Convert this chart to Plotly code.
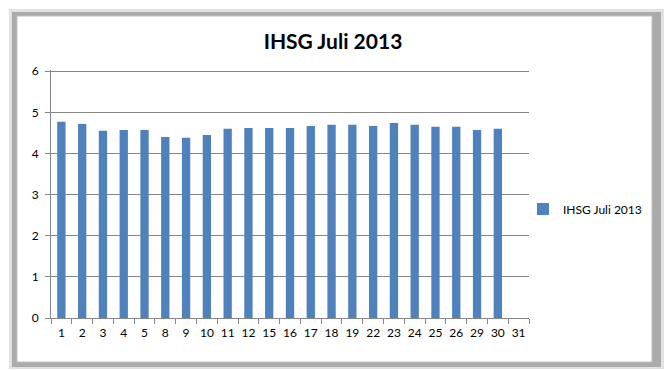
import plotly.graph_objects as go

days = ["1", "2", "3", "4", "5", "8", "9", "10", "11", "12", "15", "16", "17", "18", "19",
        "22", "23", "24", "25", "26", "29", "30", "31"]
values = [4.77, 4.72, 4.55, 4.57, 4.57, 4.40, 4.38, 4.45, 4.60, 4.62, 4.62, 4.62, 4.67, 4.70, 4.70,
          4.67, 4.74, 4.70, 4.65, 4.65, 4.57, 4.60, None]
series_name = "IHSG Juli 2013"
y_ticks = [0, 1, 2, 3, 4, 5, 6]

W, H = 665, 370
L, R, T, B = 51, 136, 70, 52
PW, PH = W - L - R, H - T - B

def px_x(p):
    return (p - L) / PW

def px_y(p):
    return (H - B - p) / PH

fig = go.Figure()
fig.add_trace(go.Bar(x=days, y=values, name=series_name, marker_color="#4F81BD",
                     marker_line_width=0, showlegend=True))

shapes = [
    dict(type="rect", xref="paper", yref="paper", layer="below",
         x0=px_x(9), x1=px_x(664), y0=px_y(369), y1=px_y(9),
         fillcolor="#e2e2e2", line_width=0),
    dict(type="rect", xref="paper", yref="paper", layer="below",
         x0=px_x(12), x1=px_x(661), y0=px_y(367), y1=px_y(12),
         fillcolor="#ababab", line_width=0),
    dict(type="rect", xref="paper", yref="paper", layer="below",
         x0=px_x(17), x1=px_x(652), y0=px_y(362), y1=px_y(16),
         fillcolor="white", line=dict(color="#c0c0c0", width=1)),
]

fig.update_layout(
    width=W, height=H,
    margin=dict(l=L, r=R, t=T, b=B, autoexpand=False),
    paper_bgcolor="white", plot_bgcolor="rgba(0,0,0,0)",
    font=dict(family="Lato, Open Sans, sans-serif", size=12, color="#000000"),
    title=dict(text="<b>IHSG Juli 2013</b>", x=(333 / W), xref="container",
               xanchor="center", y=1 - 42 / H, yanchor="middle",
               font=dict(size=21, color="#000000", family="Lato, Open Sans, sans-serif")),
    bargap=0.6,
    showlegend=True,
    legend=dict(x=px_x(523), y=px_y(209), xanchor="left", yanchor="middle",
                font=dict(size=12), bgcolor="rgba(0,0,0,0)", itemwidth=30),
    shapes=shapes,
    xaxis=dict(type="category", categoryorder="array", categoryarray=days,
               showline=True, linecolor="#868686", linewidth=1,
               ticks="outside", ticklen=5, tickcolor="#868686", tickson="boundaries",
               showgrid=False, tickfont=dict(size=12), tickangle=0, ticklabelstandoff=4),
    yaxis=dict(range=[0, 6.03], tickvals=y_ticks, showgrid=True, gridcolor="#868686", gridwidth=1,
               showline=True, linecolor="#868686", linewidth=1, ticks="outside", ticklen=5,
               tickcolor="#868686", zeroline=False, tickfont=dict(size=12), ticklabelstandoff=4),
)

fig.write_html("out.html")
